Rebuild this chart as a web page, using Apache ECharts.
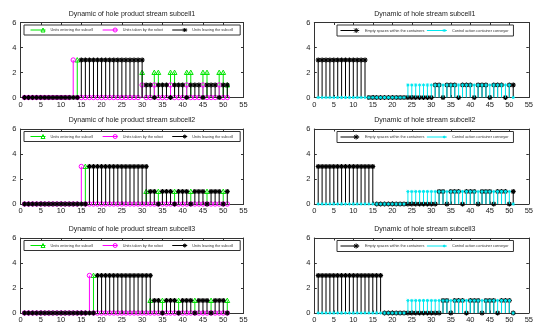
<!DOCTYPE html>
<html>
<head>
<meta charset="utf-8">
<script src="https://cdn.jsdelivr.net/npm/echarts@6/dist/echarts.min.js"></script>
<style>
	html, body {margin: 0; padding: 0; background: #fff;}
	#chart {width: 536px; height: 325px;}
</style>
</head>
<body>
<div id="chart"></div>
<script>
// time steps of the simulation (x axis)
const steps = [1, 2, 3, 4, 5, 6, 7, 8, 9, 10, 11, 12, 13, 14, 15, 16, 17, 18, 19, 20, 21, 22, 23, 24, 25, 26, 27, 28, 29, 30, 31, 32, 33, 34, 35, 36, 37, 38, 39, 40, 41, 42, 43, 44, 45, 46, 47, 48, 49, 50, 51];

// subcell1
const entering1 = [0, 0, 0, 0, 0, 0, 0, 0, 0, 0, 0, 0, 0, 3, 0, 0, 0, 0, 0, 0, 0, 0, 0, 0, 0, 0, 0, 0, 0, 2, 0, 0, 2, 2, 0, 0, 2, 2, 0, 0, 2, 2, 0, 0, 2, 2, 0, 0, 2, 2, 1];
const robot1 = [0, 0, 0, 0, 0, 0, 0, 0, 0, 0, 0, 0, 3, 0, 0, 0, 0, 0, 0, 0, 0, 0, 0, 0, 0, 0, 0, 0, 0, 1, 0, 0, 1, 0, 0, 0, 1, 0, 0, 0, 1, 0, 0, 0, 1, 0, 0, 0, 1, 0, 0];
const leaving1 = [0, 0, 0, 0, 0, 0, 0, 0, 0, 0, 0, 0, 0, 0, 3, 3, 3, 3, 3, 3, 3, 3, 3, 3, 3, 3, 3, 3, 3, 3, 1, 1, 0, 1, 1, 1, 0, 1, 1, 1, 0, 1, 1, 1, 0, 1, 1, 1, 0, 1, 1];
const empty1 = [3, 3, 3, 3, 3, 3, 3, 3, 3, 3, 3, 3, 3, 0, 0, 0, 0, 0, 0, 0, 0, 0, 0, 0, 0, 0, 0, 0, 0, 0, 1, 1, 0, 1, 1, 1, 0, 1, 1, 1, 0, 1, 1, 1, 0, 1, 1, 1, 0, 1, 1];
const conveyor1 = [0, 0, 0, 0, 0, 0, 0, 0, 0, 0, 0, 0, 0, 0, 0, 0, 0, 0, 0, 0, 0, 0, 0, 1, 1, 1, 1, 1, 1, 1, 1, 1, 1, 1, 1, 1, 1, 1, 1, 1, 1, 1, 1, 1, 1, 1, 1, 1, 1, 1, 0];

// subcell2
const entering2 = [0, 0, 0, 0, 0, 0, 0, 0, 0, 0, 0, 0, 0, 0, 0, 3, 0, 0, 0, 0, 0, 0, 0, 0, 0, 0, 0, 0, 0, 0, 1, 0, 0, 1, 0, 0, 0, 1, 0, 0, 0, 1, 0, 0, 0, 1, 0, 0, 0, 1, 0];
const robot2 = [0, 0, 0, 0, 0, 0, 0, 0, 0, 0, 0, 0, 0, 0, 3, 0, 0, 0, 0, 0, 0, 0, 0, 0, 0, 0, 0, 0, 0, 0, 0, 0, 0, 0, 0, 0, 0, 0, 0, 0, 0, 0, 0, 0, 0, 0, 0, 0, 0, 0, 0];
const leaving2 = [0, 0, 0, 0, 0, 0, 0, 0, 0, 0, 0, 0, 0, 0, 0, 0, 3, 3, 3, 3, 3, 3, 3, 3, 3, 3, 3, 3, 3, 3, 3, 1, 1, 0, 1, 1, 1, 0, 1, 1, 1, 0, 1, 1, 1, 0, 1, 1, 1, 0, 1];
const empty2 = [3, 3, 3, 3, 3, 3, 3, 3, 3, 3, 3, 3, 3, 3, 3, 0, 0, 0, 0, 0, 0, 0, 0, 0, 0, 0, 0, 0, 0, 0, 0, 1, 1, 0, 1, 1, 1, 0, 1, 1, 1, 0, 1, 1, 1, 0, 1, 1, 1, 0, 1];
const conveyor2 = [0, 0, 0, 0, 0, 0, 0, 0, 0, 0, 0, 0, 0, 0, 0, 0, 0, 0, 0, 0, 0, 0, 0, 1, 1, 1, 1, 1, 1, 1, 1, 1, 1, 1, 1, 1, 1, 1, 1, 1, 1, 1, 1, 1, 1, 1, 1, 1, 1, 1, 0];

// subcell3
const entering3 = [0, 0, 0, 0, 0, 0, 0, 0, 0, 0, 0, 0, 0, 0, 0, 0, 0, 3, 0, 0, 0, 0, 0, 0, 0, 0, 0, 0, 0, 0, 0, 1, 0, 0, 1, 0, 0, 0, 1, 0, 0, 0, 1, 0, 0, 0, 1, 0, 0, 0, 1];
const robot3 = [0, 0, 0, 0, 0, 0, 0, 0, 0, 0, 0, 0, 0, 0, 0, 0, 3, 0, 0, 0, 0, 0, 0, 0, 0, 0, 0, 0, 0, 0, 0, 0, 0, 0, 0, 0, 0, 0, 0, 0, 0, 0, 0, 0, 0, 0, 0, 0, 0, 0, 0];
const leaving3 = [0, 0, 0, 0, 0, 0, 0, 0, 0, 0, 0, 0, 0, 0, 0, 0, 0, 0, 3, 3, 3, 3, 3, 3, 3, 3, 3, 3, 3, 3, 3, 3, 1, 1, 0, 1, 1, 1, 0, 1, 1, 1, 0, 1, 1, 1, 0, 1, 1, 1, 0];
const empty3 = [3, 3, 3, 3, 3, 3, 3, 3, 3, 3, 3, 3, 3, 3, 3, 3, 3, 0, 0, 0, 0, 0, 0, 0, 0, 0, 0, 0, 0, 0, 0, 0, 1, 1, 0, 1, 1, 1, 0, 1, 1, 1, 0, 1, 1, 1, 0, 1, 1, 1, 0];
const conveyor3 = [0, 0, 0, 0, 0, 0, 0, 0, 0, 0, 0, 0, 0, 0, 0, 0, 0, 0, 0, 0, 0, 0, 0, 1, 1, 1, 1, 1, 1, 1, 1, 1, 1, 1, 1, 1, 1, 1, 1, 1, 1, 1, 1, 1, 1, 1, 1, 1, 1, 1, 0];

const productTitles = ['Dynamic of hole product stream subcell1', 'Dynamic of hole product stream subcell2', 'Dynamic of hole product stream subcell3'];
const streamTitles = ['Dynamic of hole stream subcell1', 'Dynamic of hole stream subcell2', 'Dynamic of hole stream subcell3'];
const productNames = ['Units entering the subcell', 'Units taken by the robot', 'Units leaving the subcell'];
const streamNames = ['Empty spaces within the containers', 'Control action container conveyor'];
const xTicks = [0, 55, 5];
const yTicks = [0, 6, 2];

// layout
const font = '"Liberation Sans", Arial, sans-serif';
const rowTops = [22.5, 129, 238];
const plotHeight = 75;
const columns = [{left: 20.5, width: 223}, {left: 314.3, width: 221}];

const GREEN = '#00e600';
const MAGENTA = '#ff00ff';
const BLACK = '#000000';
const CYAN = '#00e8f0';

// legend samples: a short line with the marker near its right end
const legendIcons = {
	triangle: 'path://M0 5L30 5M21 9L25 1L29 9Z',
	circle: 'path://M0 5L30 5M29 5A4 4 0 1 1 21 5A4 4 0 1 1 29 5Z',
	star: 'path://M0 5L30 5M25 1L25 9M21 5L29 5M22 2L28 8M28 2L22 8',
	dot: 'path://M0 5L30 5M26 3L26 7M24 5L28 5M24.5 3.5L27.5 6.5M27.5 3.5L24.5 6.5',
};

function asterisk(cx, cy, r, color, width) {
	const d = r * 0.7;
	const s = {stroke: color, lineWidth: width};
	return [
		{type: 'line', shape: {x1: cx - r, y1: cy, x2: cx + r, y2: cy}, style: s},
		{type: 'line', shape: {x1: cx, y1: cy - r, x2: cx, y2: cy + r}, style: s},
		{type: 'line', shape: {x1: cx - d, y1: cy - d, x2: cx + d, y2: cy + d}, style: s},
		{type: 'line', shape: {x1: cx - d, y1: cy + d, x2: cx + d, y2: cy - d}, style: s},
	];
}

function markerShapes(kind, cx, cy, color) {
	if (kind === 'triangle') {
		return [{type: 'polygon', shape: {points: [[cx - 2.4, cy + 2], [cx, cy - 2.4], [cx + 2.4, cy + 2]]}, style: {fill: 'none', stroke: color, lineWidth: 1}}];
	}
	if (kind === 'circle') {
		return [{type: 'circle', shape: {cx, cy, r: 2.2}, style: {fill: 'none', stroke: color, lineWidth: 1}}];
	}
	if (kind === 'star') {
		return asterisk(cx, cy, 2.5, color, 1.2);
	}
	return asterisk(cx, cy, 1.6, color, 1);
}

// MATLAB-like stem: vertical line from the baseline plus a marker at the value
function stem(kind, color) {
	return function (params, api) {
		const value = api.value(1);
		const top = api.coord([api.value(0), value]);
		const base = api.coord([api.value(0), 0]);
		const children = [];
		if (value !== 0) {
			children.push({type: 'line', shape: {x1: top[0], y1: base[1], x2: top[0], y2: top[1]}, style: {stroke: color, lineWidth: 1}});
		}
		// zero entries of the green series have no visible marker
		if (!(kind === 'triangle' && value === 0)) {
			children.push(...markerShapes(kind, top[0], top[1], color));
		}
		return {type: 'group', children};
	};
}

const grid = [];
const xAxis = [];
const yAxis = [];
const title = [];
const legend = [];
const series = [];

function axisX(idx, position, labels) {
	return {
		type: 'value', gridIndex: idx, position, min: xTicks[0], max: xTicks[1], interval: xTicks[2],
		axisLine: {show: true, onZero: false, lineStyle: {color: '#333', width: 1}},
		axisTick: {show: true, inside: true, length: 2.5, lineStyle: {color: '#333'}},
		axisLabel: {show: labels, fontSize: 7.5, color: '#222', margin: 3, fontFamily: font},
		splitLine: {show: false},
	};
}

function axisY(idx, position, labels) {
	return {
		type: 'value', gridIndex: idx, position, min: yTicks[0], max: yTicks[1], interval: yTicks[2],
		axisLine: {show: true, onZero: false, lineStyle: {color: '#333', width: 1}},
		axisTick: {show: true, inside: true, length: 2.5, lineStyle: {color: '#333'}},
		axisLabel: {show: labels, fontSize: 7.5, color: '#222', margin: 4, fontFamily: font},
		splitLine: {show: false},
	};
}

function addPanel(col, row, heading, names, valueSets, kinds, colors, legendLayout) {
	const idx = grid.length;
	const c = columns[col];
	const top = rowTops[row];
	grid.push({left: c.left, top, width: c.width, height: plotHeight});
	xAxis.push(axisX(idx, 'bottom', true), axisX(idx, 'top', false));
	yAxis.push(axisY(idx, 'left', true), axisY(idx, 'right', false));
	title.push({
		text: heading, left: c.left + c.width / 2, top: top - 12, padding: 0,
		textAlign: 'center', textVerticalAlign: 'top',
		textStyle: {fontSize: 7, fontWeight: 'normal', color: '#222', fontFamily: font},
	});
	legend.push({
		left: legendLayout.left, top: top + 2.5, orient: 'horizontal',
		padding: legendLayout.padding, itemGap: legendLayout.gap,
		itemWidth: legendLayout.itemWidth, itemHeight: 5,
		borderColor: '#333', borderWidth: 1, borderRadius: 0, backgroundColor: '#fff',
		selectedMode: false,
		textStyle: {fontSize: 3.8, color: '#333', fontFamily: font},
		data: names.map((name, k) => ({
			name,
			icon: legendIcons[kinds[k]],
			itemStyle: {color: 'rgba(0,0,0,0)', borderColor: colors[k], borderWidth: 1},
		})),
	});
	valueSets.forEach((values, k) => {
		series.push({
			type: 'custom', name: names[k], xAxisIndex: idx * 2, yAxisIndex: idx * 2,
			itemStyle: {color: colors[k]},
			data: steps.map((t, i) => [t, values[i]]),
			renderItem: stem(kinds[k], colors[k]),
		});
	});
}

const productLegend = {left: 24, padding: [2.5, 7, 2.5, 6], gap: 9, itemWidth: 15};
const streamLegend = {left: 337, padding: [2.5, 5, 2.5, 3], gap: 2, itemWidth: 20};

const productSets = [[entering1, robot1, leaving1], [entering2, robot2, leaving2], [entering3, robot3, leaving3]];
const streamSets = [[empty1, conveyor1], [empty2, conveyor2], [empty3, conveyor3]];

for (let row = 0; row < 3; row++) {
	addPanel(0, row, productTitles[row], productNames, productSets[row], ['triangle', 'circle', 'star'], [GREEN, MAGENTA, BLACK], productLegend);
	addPanel(1, row, streamTitles[row], streamNames, streamSets[row], ['star', 'dot'], [BLACK, CYAN], streamLegend);
}

const chart = echarts.init(document.getElementById('chart'), null, {renderer: 'canvas'});
chart.setOption({
	animation: false,
	backgroundColor: '#fff',
	title,
	legend,
	grid,
	xAxis,
	yAxis,
	series,
});
</script>
</body>
</html>
